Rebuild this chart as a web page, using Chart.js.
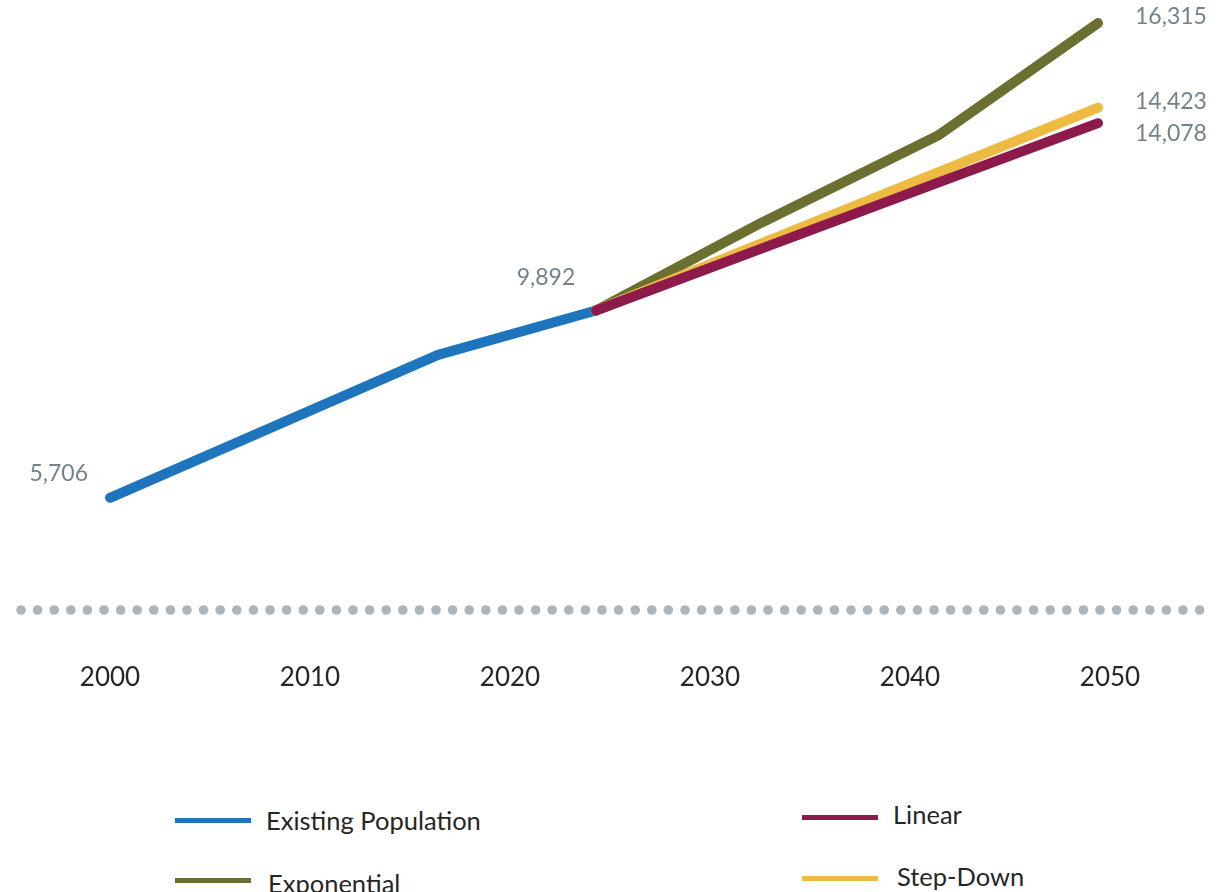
<!DOCTYPE html>
<html>
<head>
<meta charset="utf-8">
<script src="https://cdn.jsdelivr.net/npm/chart.js@4"></script>
<style>
	body { margin: 0; background: #fff; width: 1217px; height: 892px; overflow: hidden; position: relative; font-family: Lato, "Open Sans", sans-serif; }
	#wrap { position: absolute; left: 0; top: 0; width: 1217px; height: 720px; }
	.leg { position: absolute; display: flex; align-items: center; font-size: 25.5px; color: #262626; white-space: nowrap; }
	.leg span.sw { display: inline-block; width: 76px; height: 5px; margin-right: 15px; }
</style>
</head>
<body>
<div id="wrap"><canvas id="graf_population"></canvas></div>
<div id="legend"></div>
<script>
// tick labels on the x axis
var yearTicks = [2000, 2010, 2020, 2030, 2040, 2050];

// existing population
var existingYears = [2000, 2016.4, 2024.3];
var existingValues = [5706, 8900, 9892];

// projections
var projYears = [2024.3, 2032.6, 2041.4, 2049.4];
var exponentialValues = [9892, 11860, 13800, 16315];
var linearValues = [9892, 11280, 12750, 14078];
var stepDownValues = [9892, 11400, 12980, 14423];

var seriesNames = ['Existing Population', 'Exponential', 'Linear', 'Step-Down'];
var seriesColors = ['#1f75bd', '#6b6f2f', '#8d1a4b', '#edbb42'];

function toPoints(xs, ys) {
	var pts = [];
	for (var i in xs) {
		pts.push({x: xs[i], y: ys[i]});
	}
	return pts;
}

function lineSet(idx, pts, order) {
	return {
		label: seriesNames[idx],
		data: pts,
		borderColor: seriesColors[idx],
		backgroundColor: seriesColors[idx],
		borderWidth: 10,
		borderCapStyle: 'round',
		borderJoinStyle: 'round',
		pointRadius: 0,
		tension: 0,
		fill: false,
		order: order
	};
}

var chartdata = {
	datasets: [
		lineSet(0, toPoints(existingYears, existingValues), 4),
		lineSet(1, toPoints(projYears, exponentialValues), 3),
		lineSet(2, toPoints(projYears, linearValues), 1),
		lineSet(3, toPoints(projYears, stepDownValues), 2)
	]
};

// value labels: dataset, point, offset, alignment
var valueLabels = [
	{ds: 0, i: 0, dx: -22, dy: -24, align: 'right'},
	{ds: 0, i: 2, dx: -50, dy: -33, align: 'center'},
	{ds: 1, i: 3, dx: 37, dy: -6, align: 'left'},
	{ds: 3, i: 3, dx: 37, dy: -6, align: 'left'},
	{ds: 2, i: 3, dx: 37, dy: 10, align: 'left'}
];

var labelPlugin = {
	id: 'valueLabels',
	beforeDatasetsDraw: function(chart) {
		// dotted base line
		var ctx = chart.ctx;
		var y = chart.chartArea.bottom;
		ctx.save();
		ctx.fillStyle = '#adb5bb';
		for (var k = 0; k < 72; k++) {
			ctx.beginPath();
			ctx.arc(21 + k * 16.6, y, 4.8, 0, Math.PI * 2);
			ctx.fill();
		}
		ctx.restore();
	},
	afterDatasetsDraw: function(chart) {
		var ctx = chart.ctx;
		var xs = chart.scales.x, ys = chart.scales.y;
		ctx.save();
		ctx.font = '23px Lato, "Open Sans", sans-serif';
		ctx.fillStyle = '#74828c';
		ctx.textBaseline = 'middle';
		valueLabels.forEach(function(l) {
			var p = chart.data.datasets[l.ds].data[l.i];
			ctx.textAlign = l.align;
			ctx.fillText(p.y.toLocaleString('en-US'), xs.getPixelForValue(p.x) + l.dx, ys.getPixelForValue(p.y) + l.dy);
		});
		ctx.restore();
	}
};

var ctx = document.getElementById('graf_population');
var lineGraph = new Chart(ctx, {
	type: 'line',
	data: chartdata,
	plugins: [labelPlugin],
	options: {
		responsive: true,
		maintainAspectRatio: false,
		animation: false,
		layout: { padding: 0 },
		plugins: { legend: { display: false }, tooltip: { enabled: false } },
		scales: {
			x: {
				type: 'linear',
				min: 1994.5,
				max: 2055.35,
				grid: { display: false, drawTicks: false },
				border: { display: false },
				afterBuildTicks: function(axis) {
					axis.ticks = yearTicks.map(function(v) { return {value: v}; });
				},
				afterFit: function(axis) { axis.height = 110; },
				ticks: {
					padding: 52,
					color: '#262626',
					font: { family: 'Lato, "Open Sans", sans-serif', size: 26 },
					maxRotation: 0,
					callback: function(v) { return String(v); }
				}
			},
			y: {
				display: false,
				min: 3200,
				max: 16830
			}
		}
	}
});

// legend in two columns
var legendPos = [
	{left: 175, top: 820},
	{left: 175, top: 880},
	{left: 802, top: 817},
	{left: 802, top: 878}
];
var textShift = [0, 3, -3, -2];
var legend = document.getElementById('legend');
seriesNames.forEach(function(name, i) {
	var d = document.createElement('div');
	d.className = 'leg';
	d.style.left = legendPos[i].left + 'px';
	d.style.top = (legendPos[i].top - 20) + 'px';
	d.style.height = '40px';
	d.innerHTML = '<span class="sw" style="background:' + seriesColors[i] + '"></span><span style="position:relative;top:' + textShift[i] + 'px;margin-left:' + (i == 3 ? 4 : (i == 1 ? 2 : 0)) + 'px">' + name + '</span>';
	legend.appendChild(d);
});
</script>
</body>
</html>
